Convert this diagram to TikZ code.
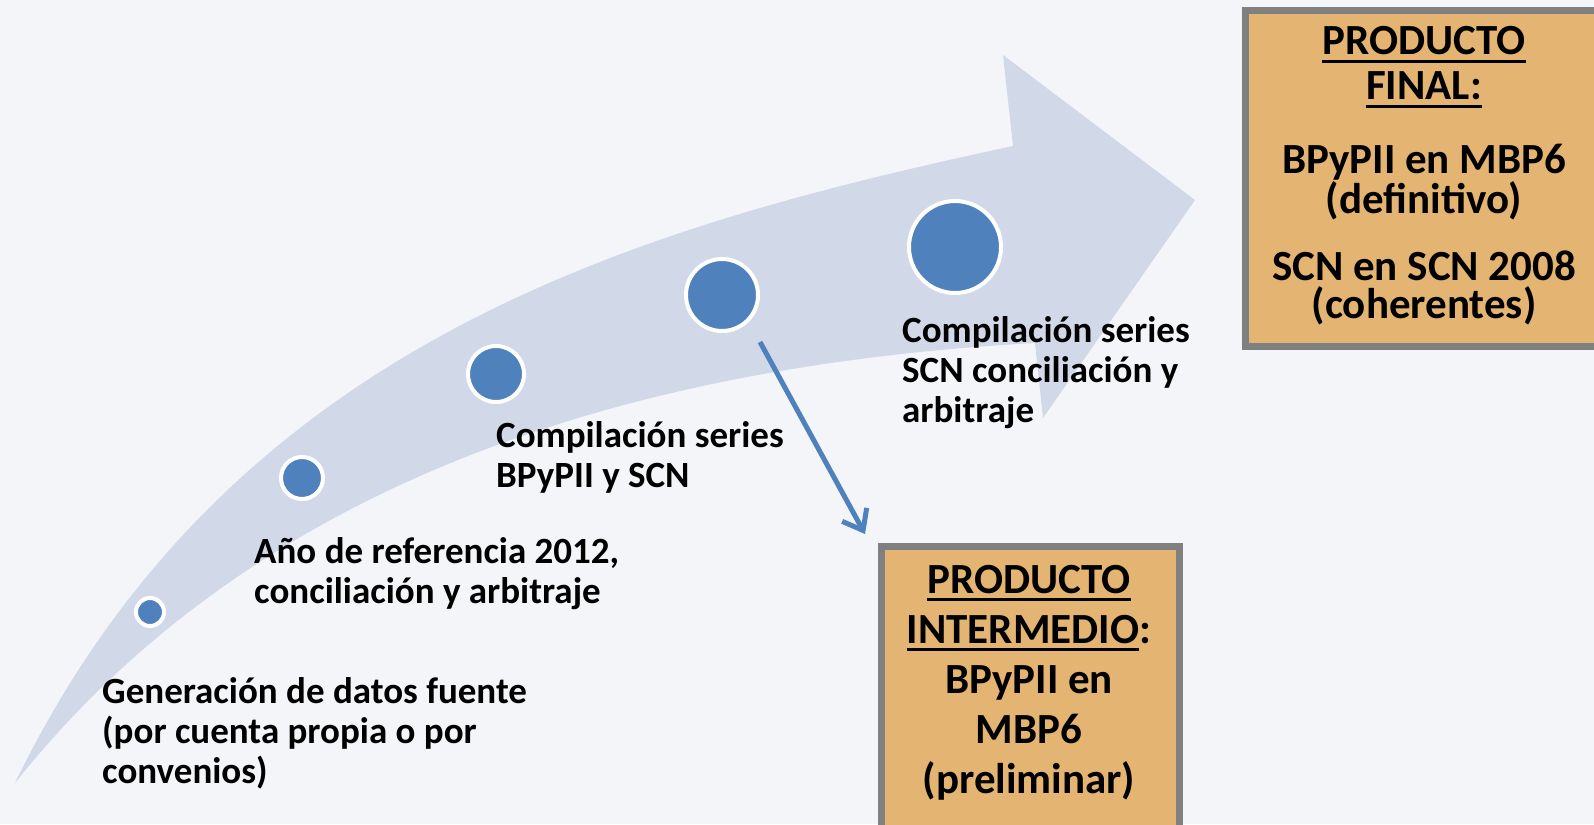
\documentclass[tikz,border=0pt]{standalone}
\usepackage{fontspec}
\setmainfont{Carlito}
\usetikzlibrary{arrows.meta}
\definecolor{bgcol}{HTML}{F4F5F8}
\definecolor{bandcol}{HTML}{D1D9E8}
\definecolor{dotcol}{HTML}{4F81BD}
\definecolor{boxfill}{HTML}{E4B473}
\definecolor{boxline}{HTML}{808080}
\newsavebox{\prodsave}
\newcommand{\prodline}[1]{\sbox{\prodsave}{#1}\rlap{\rule[-8pt]{\wd\prodsave}{3pt}}\usebox{\prodsave}}
\tikzset{
  stepdot/.style={circle, draw=white, fill=dotcol, line width=4pt, inner sep=0pt},
  steptext/.style={anchor=base west, align=left, inner sep=0pt, font=\fontsize{37}{40}\selectfont\bfseries},
  prodbox/.style={rectangle, draw=boxline, fill=boxfill, line width=7pt, inner sep=0pt},
  prodtext/.style={anchor=base, align=center, inner sep=0pt, font=\fontsize{43}{50}\selectfont\bfseries}
}
\begin{document}
\begin{tikzpicture}[x=1pt,y=-1pt]
			\useasboundingbox (0,0) rectangle (1594,824);
			\fill[bgcol] (0,0) rectangle (1594,824);
			% curved band
			\fill[bandcol] (15,783) .. controls (230,340) and (640,226) .. (1013,146)
			  -- (1003,55) -- (1195,200) -- (1043,418) -- (1035,343)
			  .. controls (640,365) and (260,475) .. (15,783) -- cycle;
			%
			\foreach \name/\x/\y/\d in {c1/150/612/28, c2/302/478/42, c3/496/374/56, c4/722/295/72, c5/955/247/92}
			{	\node[stepdot, minimum size=\d pt] (\name) at (\x,\y) {};
			}
			% base anchor = last line
			\node[steptext] (t1) at (102,783) {Generación de datos fuente\\(por cuenta propia o por\\convenios)};
			\node[steptext] (t2) at (254,603) {Año de referencia 2012,\\conciliación y arbitraje};
			\node[steptext] (t3) at (496,487) {Compilación series\\BPyPII y SCN};
			\node[steptext] (t4) at (902,422) {Compilación series\\SCN conciliación y\\arbitraje};
			%
			\node[prodbox, minimum width=360pt, minimum height=336pt] (final) at (1425.5,178.5) {};
			\node[prodtext, font=\fontsize{43}{45}\selectfont\bfseries] (finaltitle) at (1424,100) {\prodline{PRODUCTO}\\\prodline{FINAL:}};
			\node[prodtext, font=\fontsize{43}{40}\selectfont\bfseries] (finalbp) at (1424,213) {BPyPII en MBP6\\(definitivo)};
			\node[prodtext, font=\fontsize{43}{38}\selectfont\bfseries] (finalscn) at (1424,318) {SCN en SCN 2008\\(coherentes)};
			%
			\node[prodbox, minimum width=298pt, minimum height=300pt] (inter) at (1030.5,696.5) {};
			\node[prodtext] (intertext) at (1029,793) {\prodline{PRODUCTO}\\\prodline{INTERMEDIO}:\\BPyPII en\\MBP6\\(preliminar)};
			%
			\coordinate (fromc4) at (760,342);
			\coordinate (tointer) at (865,534);
			\draw[dotcol, line width=5pt, -{Straight Barb[length=18pt, width=28pt]}] (fromc4) -- (tointer);
		\end{tikzpicture}
\end{document}
